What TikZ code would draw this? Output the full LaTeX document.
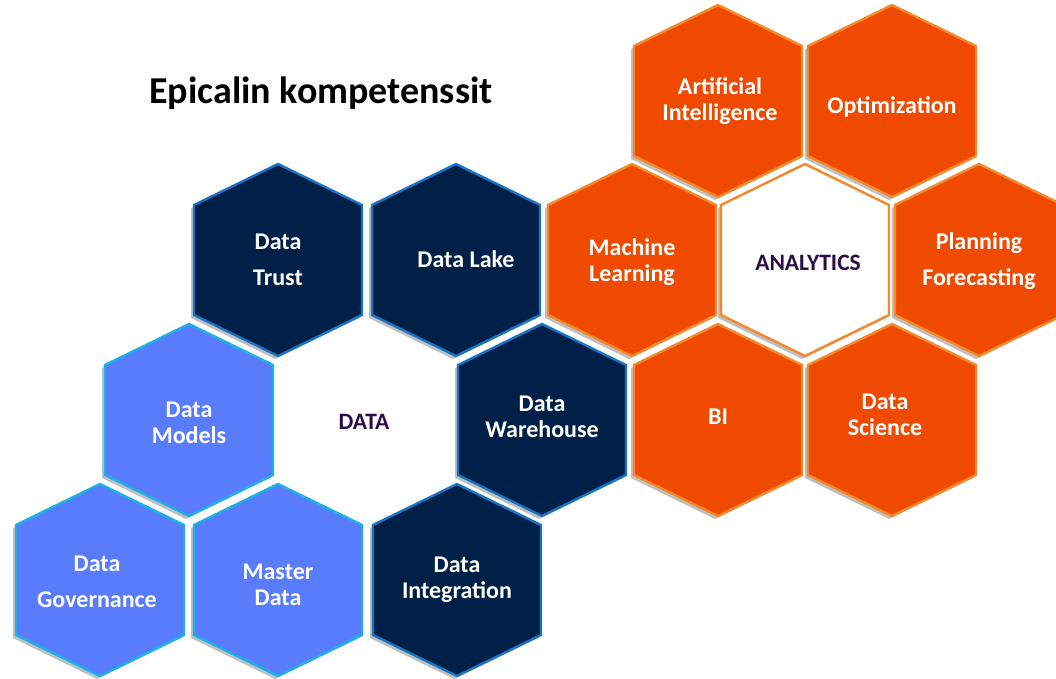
\documentclass[tikz,border=0pt]{standalone}
\usepackage{fontspec}
\setmainfont{Carlito}
\usetikzlibrary{shadows}
\definecolor{navy}{HTML}{012048}
\definecolor{navyline}{HTML}{1A74C4}
\definecolor{lblue}{HTML}{587CFC}
\definecolor{lblueline}{HTML}{1CB0E6}
\definecolor{orng}{HTML}{EF4A00}
\definecolor{orngline}{HTML}{F5892A}
\definecolor{dpurple}{HTML}{2A0E45}
\newcommand{\hexa}[3]{\draw[#3] (#1,#2-96) -- (#1+84,#2-55) -- (#1+84,#2+55) -- (#1,#2+96) -- (#1-84,#2+55) -- (#1-84,#2-55) -- cycle;}
\tikzset{
  hexshadow/.style={drop shadow={shadow xshift=-3pt, shadow yshift=-3pt, fill=black, opacity=0.25}},
  hexnavy/.style={fill=navy, draw=navyline, line width=2.4pt, line join=miter, hexshadow},
  hexblue/.style={fill=lblue, draw=lblueline, line width=2.4pt, line join=miter, hexshadow},
  hexorange/.style={fill=orng, draw=orngline, line width=2.4pt, line join=miter, hexshadow},
  hexwhite/.style={fill=white, draw=orngline, line width=2.4pt, line join=miter, hexshadow},
  lbl/.style={text=white, font=\fontsize{24}{26}\selectfont\bfseries, align=center, inner sep=0pt},
  lblwide/.style={text=white, font=\fontsize{24}{36}\selectfont\bfseries, align=center, inner sep=0pt},
  hub/.style={text=dpurple, font=\fontsize{23.5}{26}\selectfont\bfseries, align=center, inner sep=0pt},
  title/.style={text=black, font=\fontsize{38}{40}\selectfont\bfseries, inner sep=0pt}
}
\begin{document}
\begin{tikzpicture}[x=1pt, y=-1pt]
\useasboundingbox[fill=white] (0,0) rectangle (1056,679);
% orange cluster
\hexa{718}{101}{hexorange}
\hexa{892}{101}{hexorange}
\hexa{632}{260}{hexorange}
\hexa{805}{260}{hexwhite}
\hexa{979}{260}{hexorange}
\hexa{718}{420}{hexorange}
\hexa{892}{420}{hexorange}
% blue cluster
\hexa{278}{260}{hexnavy}
\hexa{456}{260}{hexnavy}
\hexa{189}{420}{hexblue}
\hexa{542}{420}{hexnavy}
\hexa{100}{580}{hexblue}
\hexa{278}{580}{hexblue}
\hexa{457}{580}{hexnavy}
% labels
\node[title] (title) at (321,93) {Epicalin kompetenssit};
\node[lblwide] (trust) at (278,260) {Data\\Trust};
\node[lbl] (lake) at (466,259) {Data Lake};
\node[lbl] (models) at (189,423) {Data\\Models};
\node[hub] (data) at (364,422) {DATA};
\node[lbl] (warehouse) at (542,417) {Data\\Warehouse};
\node[lblwide] (governance) at (97,582) {Data\\Governance};
\node[lbl] (master) at (278,585) {Master\\Data};
\node[lbl] (integration) at (457,580) {Data\\Integration};
\node[lbl] (ai) at (720,101) {Artificial\\Intelligence};
\node[lbl] (opt) at (892,107) {Optimization};
\node[lbl] (ml) at (632,262) {Machine\\Learning};
\node[hub] (analytics) at (808,263) {ANALYTICS};
\node[lblwide] (planning) at (979,261) {Planning\\Forecasting};
\node[lbl] (bi) at (718,417) {BI};
\node[lbl] (science) at (885,415) {Data\\Science};
\end{tikzpicture}
\end{document}
